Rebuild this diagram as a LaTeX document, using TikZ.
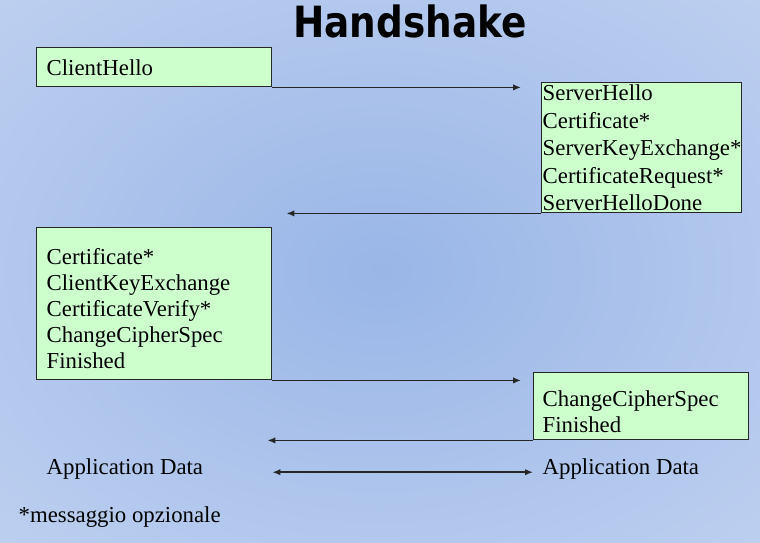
\documentclass[tikz,border=0pt]{standalone}
\usepackage{fontspec}
\setmainfont{Liberation Serif}
\newfontfamily\titlefont{DejaVu Sans}
\usetikzlibrary{calc}
\usetikzlibrary{positioning}
\usetikzlibrary{arrows.meta}
\definecolor{boxgreen}{HTML}{CCFFCC}
\definecolor{bgcenter}{RGB}{153,182,231}
\definecolor{bgedge}{RGB}{216,226,246}
\pgfdeclareradialshading{slidebg}{\pgfpoint{0bp}{0bp}}{color(0bp)=(bgcenter); color(62bp)=(bgedge); color(80bp)=(bgedge)}

\begin{document}
\begin{tikzpicture}[x = 1pt, y = -1pt, black!85, line width = 1.4pt,
    box/.style = {draw, fill = boxgreen, anchor = north west, align = left, inner ysep = 0pt, text = black, font = \fontsize{22.8}{27.5}\selectfont},
    msg/.style = {line width = 1.7pt, -{Latex[length = 8pt, width = 6.5pt]}},
    lbl/.style = {anchor = base west, inner sep = 0pt, text = black, font = \fontsize{22.8}{27}\selectfont}]
    \useasboundingbox (0,0) rectangle (760,542);
    \shade[shading = slidebg] (0,0) rectangle (760,542);

    %\draw[help lines, opacity = 0.1] (0,0) grid[step = 20] (760,542);

    \node (title) at (410,21) [text = black, font = \titlefont\bfseries\fontsize{43}{43}\selectfont] {\scalebox{0.87}[1]{Handshake}};

    \node (hello) at (36,47) [box, text width = 215, inner xsep = 10, minimum height = 39] {ClientHello};
    \node (server) at (541,82) [box, text width = 198, inner xsep = 1, minimum height = 130] {ServerHello\\Certificate*\\ServerKeyExchange*\\CertificateRequest*\\ServerHelloDone};

    \node (cli) at (36,227) [box, text width = 215, inner xsep = 10, minimum height = 152, font = \fontsize{22.8}{25.8}\selectfont] {\mbox{}\\Certificate*\\ClientKeyExchange\\CertificateVerify*\\ChangeCipherSpec\\Finished};
    \node (fin) at (533,372) [box, text width = 197, inner xsep = 9, minimum height = 67, font = \fontsize{22.8}{26}\selectfont] {\mbox{}\\ChangeCipherSpec\\Finished};

    \node (appl) at (46,474.5) [lbl] {Application Data};
    \node (appr) at (542,474.5) [lbl] {Application Data};
    \node (note) at (18,522) [lbl] {*messaggio opzionale};

    \draw[msg, shorten >= 20pt] (hello.south east) -- (hello.south east -| server.west);
    \draw[msg, shorten >= 14pt] (server.south west) -- (server.south west -| cli.east);
    \draw[msg, shorten >= 12pt] (cli.south east) -- (cli.south east -| fin.west);
    \draw[msg, shorten >= -5pt] (fin.south west) -- (fin.south west -| cli.east);
    \draw[msg, {Latex[length = 8pt, width = 6.5pt]}-{Latex[length = 8pt, width = 6.5pt]}, shorten >= 9pt] (cli.east |- appr.mid) -- (appr.mid west);

\end{tikzpicture}
\end{document}
